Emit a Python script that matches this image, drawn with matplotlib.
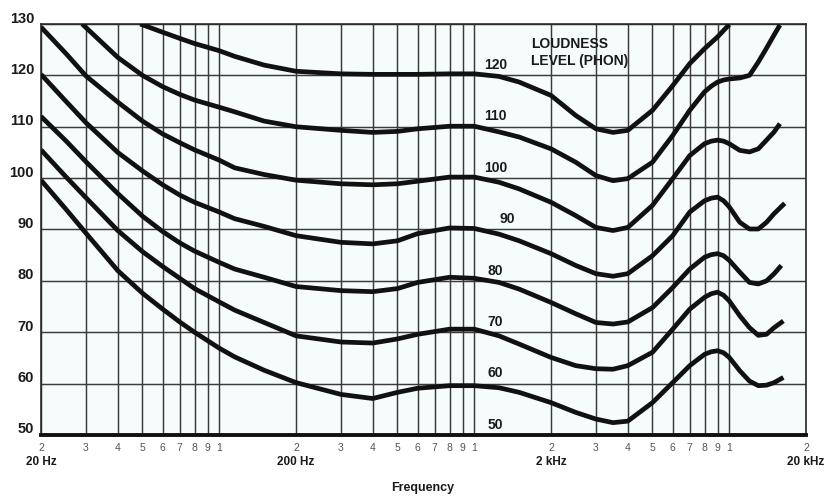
import matplotlib
matplotlib.use("Agg")
import matplotlib.pyplot as plt
import matplotlib.transforms as mtransforms

plt.rcParams['font.family'] = ['Liberation Sans', 'DejaVu Sans']

# equal-loudness contours (Hz, dB SPL)
freq_120 = [49, 60, 70, 80, 100, 115, 150, 200, 300, 400, 500, 600, 800, 1000,
            1250, 1500, 2000, 2500, 3000, 3500, 4000, 5000, 6000, 7000, 8000, 9000, 10000]
spl_120 = [130, 128.4, 127.2, 126.2, 124.8, 123.7, 122.0, 120.8, 120.3, 120.2, 120.2, 120.2, 120.3, 120.3,
           119.8, 118.7, 116.1, 112.2, 109.6, 108.9, 109.3, 113.2, 118.0, 122.3, 125.2, 127.5, 129.9]

freq_110 = [29, 40, 50, 60, 70, 80, 100, 115, 150, 200, 300, 400, 500, 600, 800, 1000,
            1250, 1500, 2000, 2500, 3000, 3500, 4000, 5000, 6000, 7000, 8000, 8500, 9000, 9500, 10000,
            11000, 12000, 13000, 14000, 15000, 15800]
spl_110 = [130, 123.5, 120.0, 117.8, 116.3, 115.2, 113.8, 112.9, 111.1, 110.0, 109.3, 108.9, 109.1, 109.6, 110.1, 110.1,
           109.0, 108.0, 105.7, 103.1, 100.5, 99.5, 99.9, 103.1, 108.3, 113.2, 116.8, 117.9, 118.7, 119.1, 119.3,
           119.5, 120.0, 122.6, 125.3, 127.9, 129.8]

freq_100 = [20, 25, 30, 40, 50, 60, 70, 80, 100, 115, 150, 200, 300, 400, 500, 600, 800, 1000,
            1250, 1500, 2000, 2500, 3000, 3500, 4000, 5000, 6000, 7000, 8000, 8500, 9000, 9500, 10000,
            11000, 12000, 13000, 14000, 15000, 15800]
spl_100 = [129.4, 124.3, 119.9, 114.8, 111.1, 108.6, 106.9, 105.5, 103.5, 102.0, 100.7, 99.6, 98.9, 98.7, 98.9, 99.4, 100.2, 100.2,
           99.2, 97.9, 95.3, 92.7, 90.4, 89.8, 90.4, 94.7, 99.9, 104.4, 106.7, 107.2, 107.4, 107.2, 106.7,
           105.4, 105.1, 105.7, 107.4, 109.0, 110.6]

freq_90 = [20, 25, 30, 40, 50, 60, 70, 80, 100, 115, 150, 200, 300, 400, 500, 600, 800, 1000,
           1250, 1500, 2000, 2500, 3000, 3500, 4000, 5000, 6000, 7000, 8000, 8500, 9000, 9500, 10000,
           11000, 12000, 13000, 14000, 15000, 16500]
spl_90 = [120.2, 115.0, 110.8, 105.0, 101.4, 98.7, 96.7, 95.3, 93.4, 92.1, 90.6, 88.8, 87.5, 87.2, 87.8, 89.2, 90.3, 90.2,
          89.1, 87.8, 85.3, 83.0, 81.4, 80.9, 81.4, 84.9, 88.8, 93.4, 95.6, 96.1, 96.3, 95.6, 94.4,
          91.4, 90.1, 90.1, 91.4, 93.1, 95.1]

freq_80 = [20, 25, 30, 40, 50, 60, 70, 80, 100, 115, 150, 200, 300, 400, 500, 600, 800, 1000,
           1250, 1500, 2000, 2500, 3000, 3500, 4000, 5000, 6000, 7000, 8000, 8500, 9000, 9500, 10000,
           11000, 12000, 13000, 14000, 15000, 16000]
spl_80 = [112.0, 107.3, 103.2, 97.0, 92.6, 89.6, 87.4, 85.8, 83.6, 82.3, 80.7, 78.9, 78.1, 77.9, 78.5, 79.7, 80.7, 80.5,
          79.7, 78.4, 75.8, 73.6, 71.9, 71.6, 72.0, 74.8, 78.7, 82.3, 84.6, 85.1, 85.3, 84.9, 84.0,
          81.7, 79.7, 79.4, 80.0, 81.4, 83.0]

freq_70 = [20, 25, 30, 40, 50, 60, 70, 80, 100, 115, 150, 200, 300, 400, 500, 600, 800, 1000,
           1250, 1500, 2000, 2500, 3000, 3500, 4000, 5000, 6000, 7000, 8000, 8500, 9000, 9500, 10000,
           11000, 12000, 13000, 14000, 15000, 16300]
spl_70 = [105.5, 100.3, 96.2, 89.8, 85.7, 82.8, 80.5, 78.5, 75.9, 74.3, 71.9, 69.3, 68.1, 67.9, 68.7, 69.6, 70.6, 70.6,
          69.3, 67.7, 65.1, 63.5, 62.9, 62.8, 63.5, 66.1, 70.6, 74.5, 76.8, 77.5, 77.8, 77.2, 76.1,
          73.2, 70.9, 69.4, 69.6, 70.9, 72.2]

freq_60 = [20, 25, 30, 40, 50, 60, 70, 80, 100, 115, 150, 200, 300, 400, 500, 600, 800, 1000,
           1250, 1500, 2000, 2500, 3000, 3500, 4000, 5000, 6000, 7000, 8000, 8500, 9000, 9500, 10000,
           11000, 12000, 13000, 14000, 15000, 16300]
spl_60 = [99.6, 94.0, 89.3, 82.0, 77.6, 74.5, 72.0, 70.0, 66.9, 65.2, 62.6, 60.2, 57.9, 57.1, 58.3, 59.1, 59.6, 59.6,
          59.2, 58.3, 56.3, 54.4, 53.1, 52.4, 52.7, 56.3, 60.2, 63.5, 65.7, 66.2, 66.4, 66.0, 65.1,
          62.5, 60.5, 59.6, 59.7, 60.2, 61.2]

curves = [(freq_120, spl_120), (freq_110, spl_110), (freq_100, spl_100), (freq_90, spl_90),
          (freq_80, spl_80), (freq_70, spl_70), (freq_60, spl_60)]

phon_labels = [120, 110, 100, 90, 80, 70, 60, 50]
y_ticks = [50, 60, 70, 80, 90, 100, 110, 120, 130]
x_ticks = [20, 30, 40, 50, 60, 70, 80, 90, 100,
           200, 300, 400, 500, 600, 700, 800, 900, 1000,
           2000, 3000, 4000, 5000, 6000, 7000, 8000, 9000, 10000, 20000]
x_tick_labels = ['2', '3', '4', '5', '6', '7', '8', '9', '1',
                 '2', '3', '4', '5', '6', '7', '8', '9', '1',
                 '2', '3', '4', '5', '6', '7', '8', '9', '1', '2']
decades = [20, 200, 2000, 20000]
decade_labels = ['20 Hz', '200 Hz', '2 kHz', '20 kHz']

fig = plt.figure(figsize=(8.25, 4.96), dpi=100)
ax = fig.add_axes([0.0497, 0.123, 0.9273, 0.8286])
ax.set_facecolor('#f6fbfb')

ax.set_xscale('log')
ax.set_xlim(20, 20000)
ax.set_ylim(50, 130)

# grid: every 1..9 step in each decade, every 10 dB
ax.set_xticks(x_ticks)
ax.set_xticklabels(x_tick_labels, fontsize=7.5, color='#555555')
ax.xaxis.set_minor_locator(matplotlib.ticker.NullLocator())
ax.set_yticks(y_ticks)
ax.set_yticklabels([str(v) for v in y_ticks], fontsize=10.5, fontweight='bold', color='#1a1a1a')
ax.tick_params(axis='both', length=0)
ax.tick_params(axis='x', pad=6)
ax.tick_params(axis='y', pad=5)
ax.grid(True, which='major', color='#3a3a3a', linewidth=1.05)
ax.set_axisbelow(True)

# y labels sit a little above their grid lines
shift = mtransforms.ScaledTranslation(0, 0.07, fig.dpi_scale_trans)
for lab in ax.get_yticklabels():
    lab.set_transform(lab.get_transform() + shift)

for sp in ax.spines.values():
    sp.set_color('#2a2a2a')
    sp.set_linewidth(1.2)
ax.spines['bottom'].set_linewidth(2.8)
ax.spines['bottom'].set_color('#111111')

for f, s in curves:
    ax.plot(f, s, color='#111111', linewidth=3.4, solid_joinstyle='round',
            solid_capstyle='butt', clip_on=True, zorder=3)

# phon labels near 1 kHz
for p in phon_labels:
    fx = 1350 if p == 90 else 1210
    ax.text(fx, p + 2.0, str(p), fontsize=10, fontweight='bold', color='#1a1a1a',
            ha='center', va='center', zorder=4)

ax.text(1670, 124.4, 'LOUDNESS\nLEVEL (PHON)', fontsize=10, fontweight='bold',
        color='#1a1a1a', ha='left', va='center', linespacing=1.25, zorder=4)

trans = mtransforms.blended_transform_factory(ax.transData, ax.transAxes)
for d, lab in zip(decades, decade_labels):
    ax.text(d, -0.066, lab, transform=trans, fontsize=8.5, fontweight='bold',
            color='#1a1a1a', ha='center', va='center', clip_on=False)

fig.text(0.5127, 0.016, 'Frequency', fontsize=9, fontweight='bold',
         color='#1a1a1a', ha='center', va='center')

fig.savefig('out.png', dpi=100)
